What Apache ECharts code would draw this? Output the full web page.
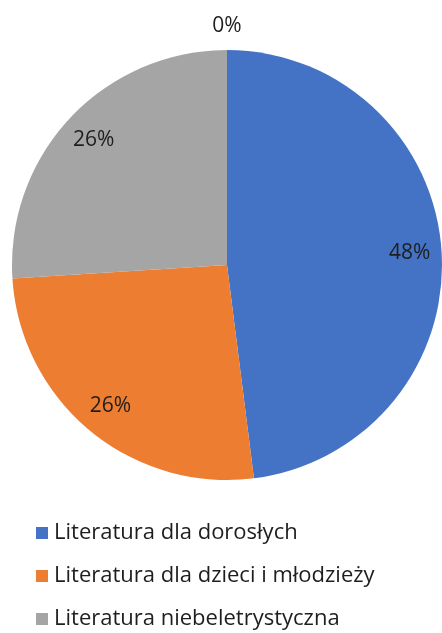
<!DOCTYPE html>
<html>
<head>
<meta charset="utf-8">
<script src="https://cdn.jsdelivr.net/npm/echarts@6/dist/echarts.min.js"></script>
<style>
    html, body { margin: 0; padding: 0; background: #fff; }
    #chart { width: 442px; height: 633px; }
</style>
</head>
<body>
<div id="chart"></div>
<script>
const categories = ['Literatura dla dorosłych', 'Literatura dla dzieci i młodzieży', 'Literatura niebeletrystyczna', 'Inne']
const values = [48, 26, 26, 0]
const colors = ['#4472C4', '#ED7D31', '#A5A5A5', '#FFC000']
const legendItems = categories.slice(0, 3)

const chartDom = document.getElementById('chart')
const myChart = echarts.init(chartDom, null, { width: 442, height: 633 })

const center = [227, 265]
const R = 215
const font = '"Open Sans", Lato, sans-serif'

const pieData = categories.map((name, i) => ({
    name,
    value: values[i],
    itemStyle: { color: colors[i] }
}))

// invisible copies used only for label placement
const labelData = (showZero) => categories.map((name, i) => ({
    name,
    value: values[i],
    itemStyle: { color: 'rgba(0,0,0,0)' },
    label: { show: showZero ? values[i] === 0 : values[i] !== 0 }
}))

const labelStyle = {
    position: 'inside',
    formatter: '{d}%',
    fontFamily: font,
    fontSize: 21,
    color: '#1e1e1e'
}

const option = {
    animation: false,
    legend: {
        data: legendItems,
        orient: 'vertical',
        left: 36,
        top: 522,
        height: 150,
        padding: 0,
        itemWidth: 12,
        itemHeight: 12,
        itemGap: 21,
        icon: 'rect',
        selectedMode: false,
        textStyle: {
            fontFamily: font,
            fontSize: 22,
            color: '#1e1e1e',
            padding: [0, 0, 0, 1]
        }
    },
    series: [
        {
            type: 'pie',
            center,
            radius: R,
            startAngle: 90,
            clockwise: true,
            percentPrecision: 0,
            label: { show: false },
            labelLine: { show: false },
            emphasis: { disabled: true },
            data: pieData
        },
        {
            type: 'pie',
            center,
            radius: [145, R],
            startAngle: 90,
            clockwise: true,
            percentPrecision: 0,
            silent: true,
            legendHoverLink: false,
            label: labelStyle,
            labelLine: { show: false },
            emphasis: { disabled: true },
            data: labelData(false)
        },
        {
            type: 'pie',
            center,
            radius: [R, 257],
            startAngle: 90,
            clockwise: true,
            percentPrecision: 0,
            silent: true,
            legendHoverLink: false,
            label: labelStyle,
            labelLine: { show: false },
            emphasis: { disabled: true },
            data: labelData(true)
        }
    ]
}

option && myChart.setOption(option)
</script>
</body>
</html>
